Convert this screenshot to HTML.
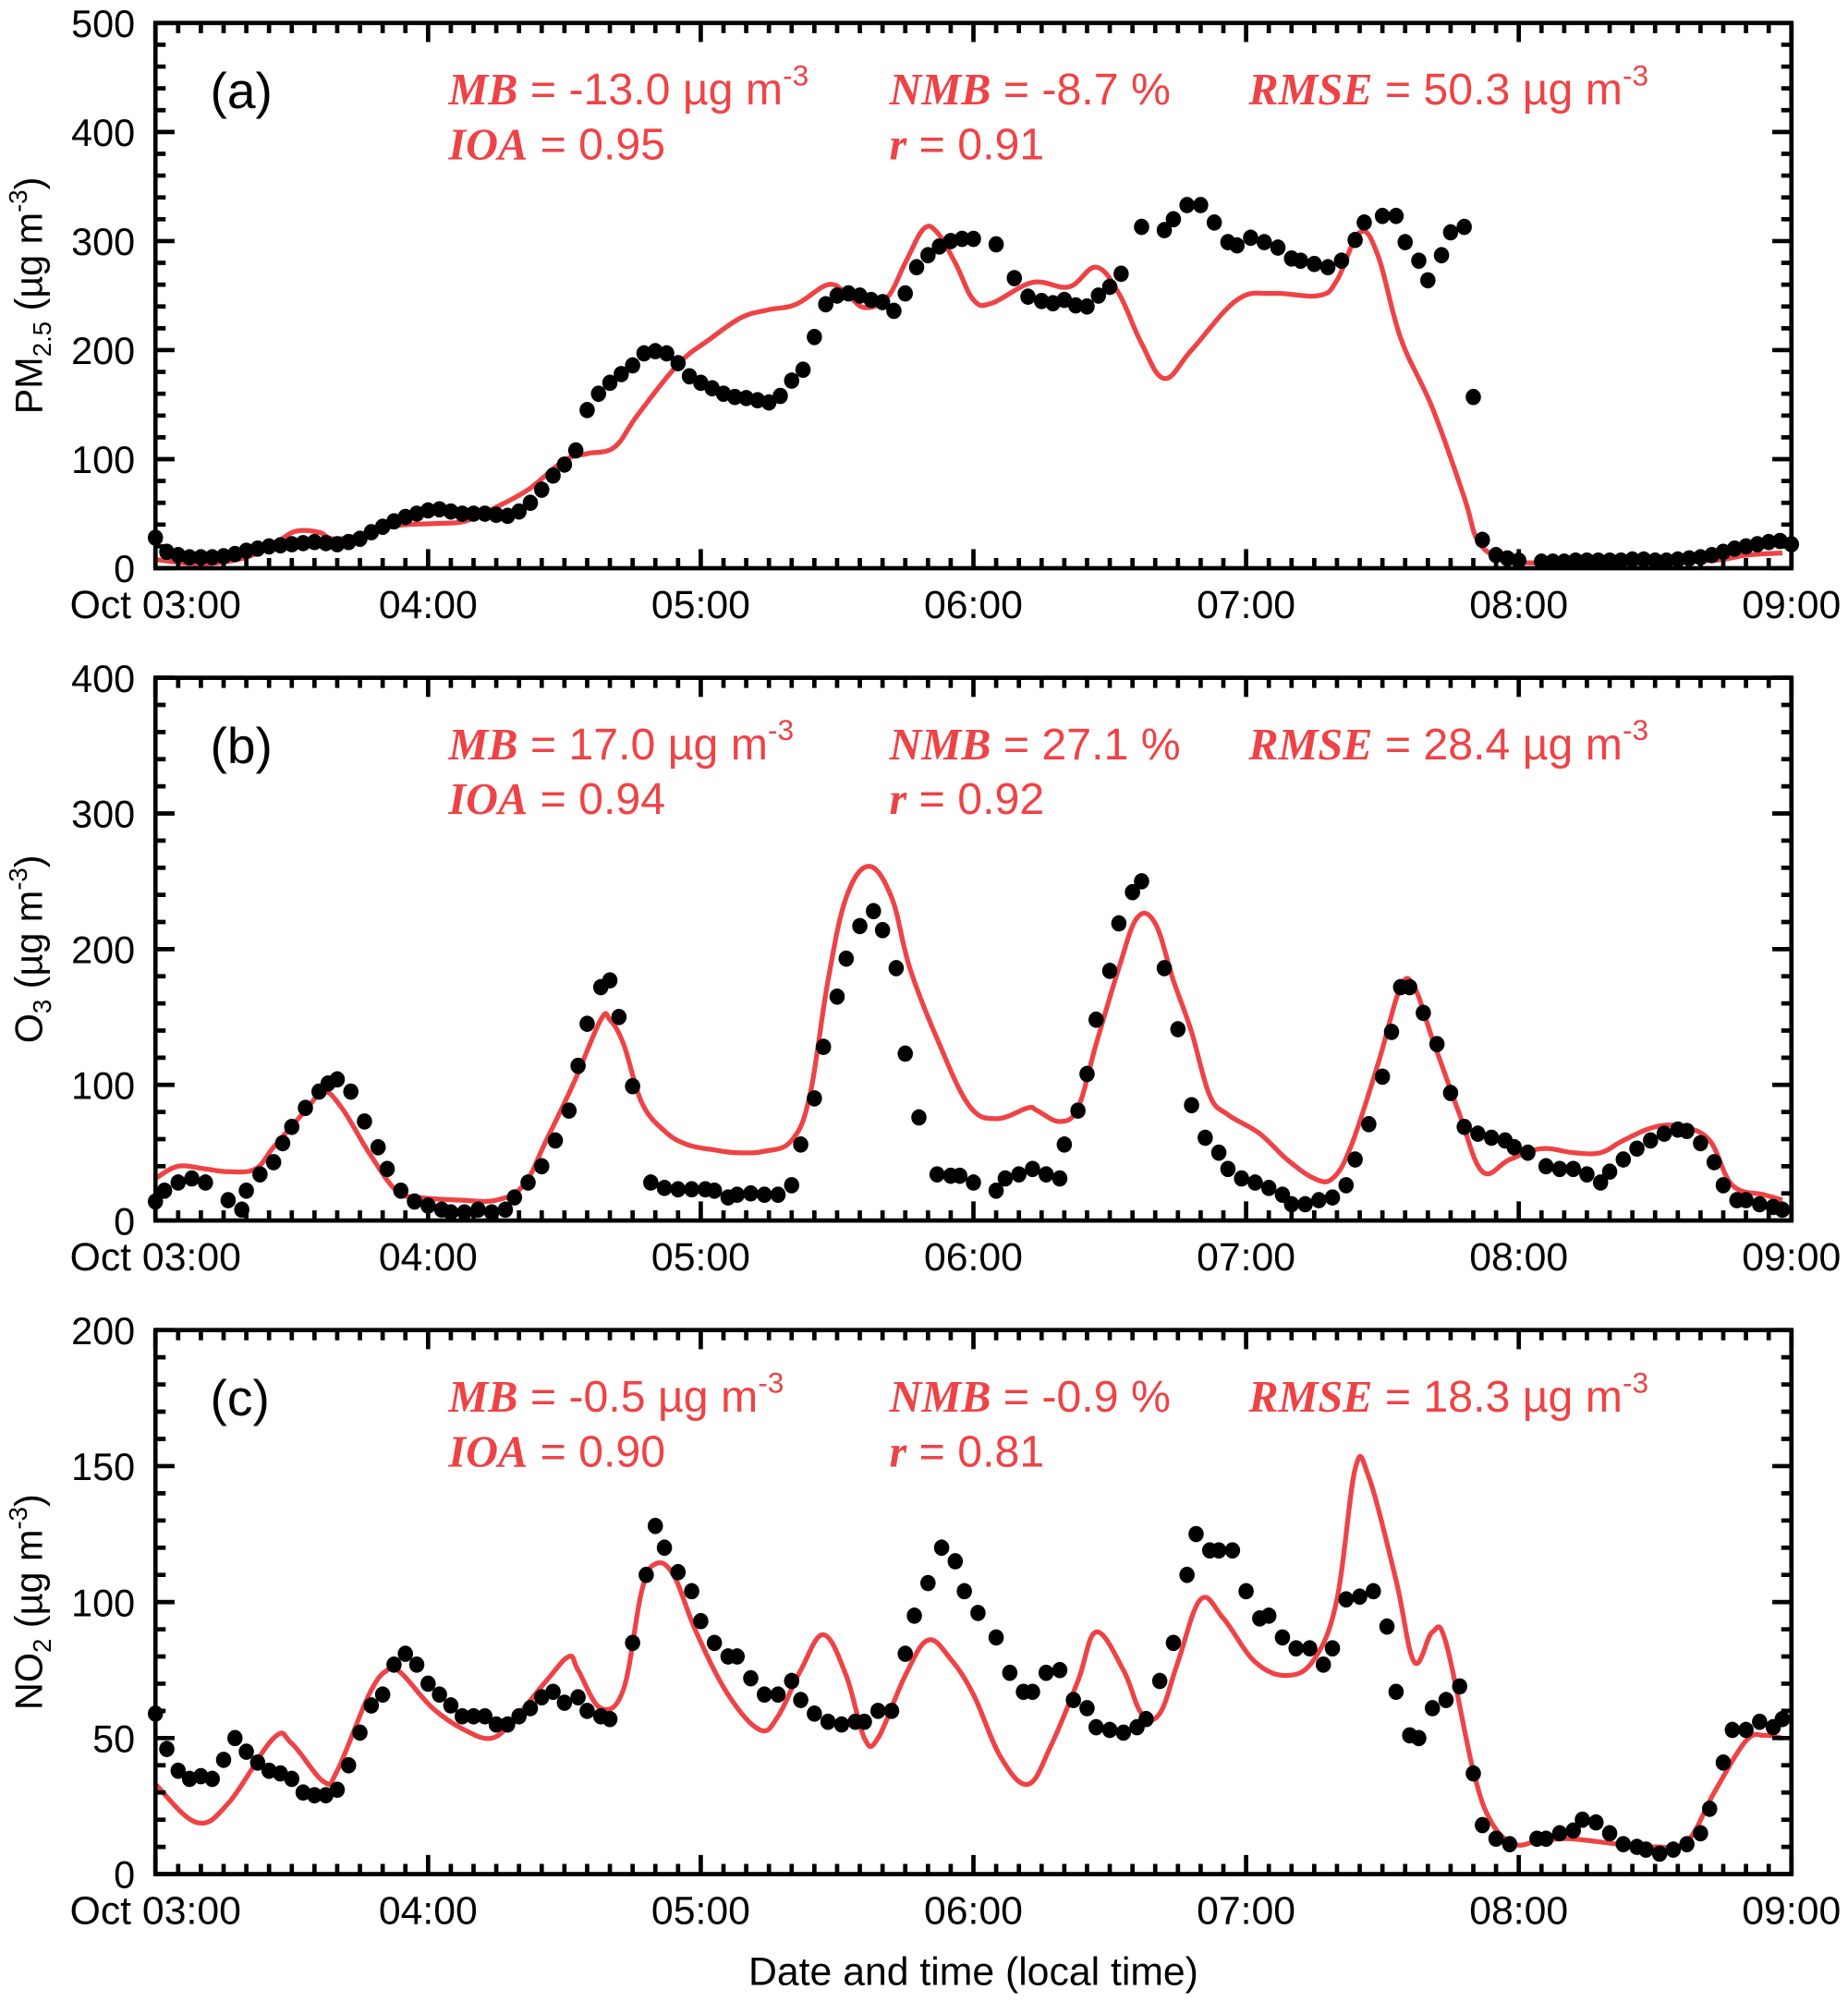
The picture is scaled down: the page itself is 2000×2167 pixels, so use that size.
<!DOCTYPE html>
<html><head><meta charset="utf-8"><style>
html,body{margin:0;padding:0;background:#fff}
svg{display:block}
text{font-family:"Liberation Sans",sans-serif;fill:#000}
.st{fill:#ee4346;font-size:35px}
.sv{font-family:"Liberation Serif",serif;font-weight:bold;font-style:italic}
</style></head><body>
<svg id="fig" width="2000" height="2167" viewBox="0 0 1450.4 1571.4" preserveAspectRatio="none" xmlns="http://www.w3.org/2000/svg"></svg>
<script>
// x-axis category labels
const xTickLabels = ["Oct 03:00","04:00","05:00","06:00","07:00","08:00","09:00"];
// Panel a (PM2.5)
const obsATime = [0,2.5,5,7.5,10,12.5,15,17.5,20,22.5,25,27.5,30,32.5,35,37.5,40,42.5,45,47.5,50,52.5,55,57.5,60,62.5,65,67.5,70,72.5,75,77.5,80,82.5,85,87.5,90,92.5,95,97.5,100,102.5,105,107.5,110,112.5,115,117.5,120,122.5,125,127.5,130,132.5,135,137.5,140,142.5,145,147.5,150,152.5,155,157.5,160,162.5,165,167.5,170,172.5,175,177.5,180,185,189,192,195,197.5,200,202.5,205,207.5,210,212.5,217,222,224,227,230,233,236,238,241,244,247,250,252,255,258,261,264,266,270,273,275,278,280,283,285,288,290,292,295,297.5,300,305,307.5,310,312.5,315,317.5,320,322.5,325,327.5,330,332.5,335,337.5,340,342.5,345,347.5,350,352.5,355,357.5,360];
const obsAVal = [28,15,12,10,10,10,11,13,16,18,20,21,22,23,24,23,22,24,27,33,38,43,47,50,53,54,52,50,50,50,49,48,52,60,72,85,95,108,145,160,170,178,186,197,199,197,188,176,170,165,160,157,156,154,152,158,172,182,212,242,250,252,250,246,244,236,252,276,287,295,300,302,302,297,266,249,245,243,246,241,240,250,258,270,313,310,320,333,333,317,299,296,303,299,294,284,282,279,276,282,301,317,323,323,299,282,264,287,308,313,157,26,12,9,7,6,6,6,7,7,7,7,7,8,8,7,7,8,9,10,12,15,18,20,22,24,25,22];
const modATime = [0,10,20,27,31,36,39,45,53,62,68,74,82,90,95,101,106,115,122,129,135,141,148,152,156,161,165,169,172,176,180,184,193,201,207,212,217,222,228,238,246,256,260,265,269,274,281,288,291,296,302,320,342,350,358];
const modAVal = [8,4,10,25,34,33,27,30,39,41,43,54,72,99,105,111,140,187,210,230,237,242,260,252,239,248,280,311,308,280,246,243,262,258,276,252,206,174,200,246,252,250,264,308,287,211,147,65,25,9,5,5,7,12,14];
// Panel b (O3)
const obsBTime = [0,2,5,8,11,16,19,20,23,26,28,30,33,36,38,40,43,46,49,51,54,57,60,63,65,68,71,74,77,79,82,85,88,91,93,95,98,100,102,105,109,112,115,118,121,123,126,128,131,134,137,140,142,145,147,150,152,155,158,160,163,165,168,172,175,177,180,185,187,190,193,196,199,200,203,205,207,210,212,215,217,222,225,228,231,234,236,239,242,245,248,250,253,256,259,262,264,267,270,272,274,276,279,282,285,288,291,294,297,299,302,306,309,312,315,318,320,323,326,329,332,335,337,340,343,345,348,350,353,356,358];
const obsBVal = [14,22,28,31,28,15,8,22,34,43,57,69,83,95,101,104,95,73,54,38,22,14,11,8,6,6,8,6,8,17,28,40,59,81,114,145,172,177,150,99,28,24,23,23,23,22,17,19,20,19,19,26,56,90,128,165,193,217,228,214,186,123,76,34,33,33,28,22,31,34,38,34,31,56,81,108,148,184,219,242,250,186,141,85,61,50,38,31,28,24,19,12,12,15,17,26,45,71,106,139,172,172,153,130,94,69,64,61,59,54,50,40,38,38,34,28,36,45,53,59,64,67,66,57,43,26,15,15,12,10,8];
const modBTime = [0,5,11,16,22,26,33,37,41,47,53,58,67,75,81,86,92,98,100,103,107,112,117,123,128,134,140,144,148,152,157,162,166,172,179,185,192,194,199,203,207,212,216,220,224,228,232,236,243,249,255,259,263,269,274,277,281,287,292,298,305,312,318,323,330,336,342,347,354,358];
const modBVal = [31,40,38,36,38,54,81,95,83,50,22,17,15,15,26,59,101,148,148,130,87,66,56,52,50,51,59,92,177,238,261,238,186,134,85,75,83,81,73,83,130,186,223,219,177,139,92,78,64,45,31,31,54,115,172,172,134,78,36,45,53,50,50,59,69,69,59,26,19,15];
// Panel c (NO2)
const obsCTime = [0,2.5,5,7.5,10,12.5,15,17.5,20,22.5,25,27.5,30,32.5,35,37.5,40,42.5,45,47.5,50,52.5,55,57.5,60,62.5,65,67.5,70,72.5,75,77.5,80,82.5,85,87.5,90,93,95,98,100,105,108,110,112,115,118,120,123,126,128,131,134,137,140,142,145,148,151,154,156,159,162,165,167,170,173,176,178,181,185,188,191,193,196,199,202,205,207,210,213,216,218,221,224,227,229,232,234,237,240,243,245,248,251,254,257,259,262,265,268,271,273,276,278,281,284,287,290,292,295,298,304,306,309,312,314,317,320,323,326,328,331,334,337,340,342,345,347,350,353,356,358];
const obsCVal = [59,46,38,35,36,35,42,50,45,41,38,37,35,30,29,29,31,40,52,62,66,77,81,77,70,66,62,58,58,58,55,55,58,61,65,67,63,65,60,58,57,85,110,128,120,111,104,93,85,80,80,72,66,66,71,64,59,56,55,56,56,60,60,81,95,107,120,115,104,96,87,74,67,67,74,75,64,61,54,53,52,54,57,71,85,110,125,119,119,119,104,94,95,87,83,83,77,83,101,102,104,91,67,51,50,61,64,69,37,18,13,11,13,13,15,16,20,19,15,11,10,9,7.5,9,11,15,24,41,53,53,56,54,57];
const modCTime = [0,9,16,26,30,37,40,47,51,54,61,68,74,79,86,91,93,98,103,107,110,114,119,126,133,137,142,147,152,156,159,165,170,175,180,186,192,197,203,207,213,217,221,225,230,235,242,249,255,260,264,267,273,277,281,284,290,294,299,304,311,322,330,337,343,350,354,358];
const modCVal = [33,19,26,50,48,34,38,66,75,74,61,53,50,57,71,80,75,61,68,104,114,110,89,66,53,58,75,88,73,50,50,73,86,79,66,43,33,47,71,89,75,59,59,78,101,94,78,73,79,101,149,146,108,78,89,85,38,19,11,12,13,11,10,12,30,49,51,50];
// Axis ticks
const yTicksA = [0,100,200,300,400,500];
const yTicksB = [0,100,200,300,400];
const yTicksC = [0,50,100,150,200];

const NS = "http://www.w3.org/2000/svg";
const svg = document.getElementById('fig');
const X0 = 122, X1 = 1406, TMAX = 360;
function xs(t){ return X0 + (X1 - X0) * t / TMAX; }
function mk(tag, attrs, parent){
  const e = document.createElementNS(NS, tag);
  for (const k in attrs) e.setAttribute(k, attrs[k]);
  (parent || svg).appendChild(e);
  return e;
}
function smoothPath(pts){
  let d = 'M' + pts[0][0].toFixed(1) + ',' + pts[0][1].toFixed(1);
  for (let i = 0; i < pts.length - 1; i++) {
    const p0 = pts[Math.max(0, i - 1)], p1 = pts[i], p2 = pts[i + 1], p3 = pts[Math.min(pts.length - 1, i + 2)];
    const k = 0.18;
    const c1x = p1[0] + (p2[0] - p0[0]) * k, c1y = p1[1] + (p2[1] - p0[1]) * k;
    const c2x = p2[0] - (p3[0] - p1[0]) * k, c2y = p2[1] - (p3[1] - p1[1]) * k;
    d += `C${c1x.toFixed(1)},${c1y.toFixed(1)} ${c2x.toFixed(1)},${c2y.toFixed(1)} ${p2[0].toFixed(1)},${p2[1].toFixed(1)}`;
  }
  return d;
}

const panels = [
  {id:'a', top:18, bot:446, ymax:500, minor:20, ticks:yTicksA, ot:obsATime, ov:obsAVal, mt:modATime, mv:modAVal,
   label:'(a)', s:['-13.0','-8.7','50.3','0.95','0.91'], ytitle:['PM','2.5']},
  {id:'b', top:532, bot:958, ymax:400, minor:20, ticks:yTicksB, ot:obsBTime, ov:obsBVal, mt:modBTime, mv:modBVal,
   label:'(b)', s:['17.0','27.1','28.4','0.94','0.92'], ytitle:['O','3']},
  {id:'c', top:1044, bot:1471, ymax:200, minor:10, ticks:yTicksC, ot:obsCTime, ov:obsCVal, mt:modCTime, mv:modCVal,
   label:'(c)', s:['-0.5','-0.9','18.3','0.90','0.81'], ytitle:['NO','2']}
];

panels.forEach(p => {
  const g = mk('g', {});
  
  
  const ys = v => p.bot - (p.bot - p.top) * v / p.ymax;
  const pts = p.mt.map((t, i) => [xs(t), ys(p.mv[i])]);
  const line = mk('path', {d:smoothPath(pts), fill:'none', stroke:'#ee4346', 'stroke-width':3.8, 'stroke-linejoin':'round'}, g);
  
  
  const dg = mk('g', {}, g);
  
  
  p.ot.forEach((t, i) => {
    const c = mk('ellipse', {cx:xs(t), cy:ys(p.ov[i]), rx:6, ry:6.4, fill:'#000'}, dg);
    
    
  });
  const fr = mk('rect', {x:X0, y:p.top, width:X1 - X0, height:p.bot - p.top, fill:'none', stroke:'#000', 'stroke-width':3.4}, g);
  
  
  let td = '';
  for (let m = 0; m <= TMAX; m += 5) {
    const L = (m % 60 === 0) ? 15 : 8, x = xs(m);
    td += `M${x},${p.bot}v${-L}M${x},${p.top}v${L}`;
  }
  for (let v = 0; v <= p.ymax; v += p.minor) {
    const L = (p.ticks.indexOf(v) >= 0) ? 15 : 8, y = ys(v);
    td += `M${X0},${y}h${L}M${X1},${y}h${-L}`;
  }
  const tk = mk('path', {d:td, stroke:'#000', 'stroke-width':3.4, fill:'none'}, g);
  
  
  p.ticks.forEach(v => {
    const t = mk('text', {x:106, y:ys(v) + 11, 'text-anchor':'end', 'font-size':30}, g);
    t.textContent = v;
    
    
  });
  xTickLabels.forEach((lab, i) => {
    const t = mk('text', {x:xs(i * 60), y:p.bot + 39, 'text-anchor':'middle', 'font-size':31}, g);
    t.textContent = lab;
    
    
  });
  const cy = (p.top + p.bot) / 2;
  const yt = mk('text', {x:0, y:0, 'text-anchor':'middle', 'font-size':30, transform:`translate(33,${cy}) rotate(-90)`}, g);
  yt.innerHTML = `${p.ytitle[0]}<tspan font-size="20" dy="7">${p.ytitle[1]}</tspan><tspan dy="-7"> (µg m</tspan><tspan font-size="20" dy="-12">-3</tspan><tspan dy="12">)</tspan>`;
  
  
  const pl = mk('text', {x:165, y:p.top + 67, 'font-size':40}, g);
  pl.textContent = p.label;
  
  
  const b1 = p.top + 64, b2 = p.top + 107;
  const st = [
    [352, b1, 'MB', ` = ${p.s[0]} µg m`, true, 'stat-mb'],
    [698, b1, 'NMB', ` = ${p.s[1]} %`, false, 'stat-nmb'],
    [980, b1, 'RMSE', ` = ${p.s[2]} µg m`, true, 'stat-rmse'],
    [352, b2, 'IOA', ` = ${p.s[3]}`, false, 'stat-ioa'],
    [698, b2, 'r', ` = ${p.s[4]}`, false, 'stat-r']
  ];
  st.forEach(s => {
    const t = mk('text', {x:s[0], y:s[1], class:'st'}, g);
    t.innerHTML = `<tspan class="sv">${s[2]}</tspan>${s[3]}` + (s[4] ? `<tspan font-size="23" dy="-15">-3</tspan>` : '');
    
    
  });
});
const xt = mk('text', {x:764, y:1558, 'text-anchor':'middle', 'font-size':31});
xt.textContent = 'Date and time (local time)';


</script>
</body></html>
